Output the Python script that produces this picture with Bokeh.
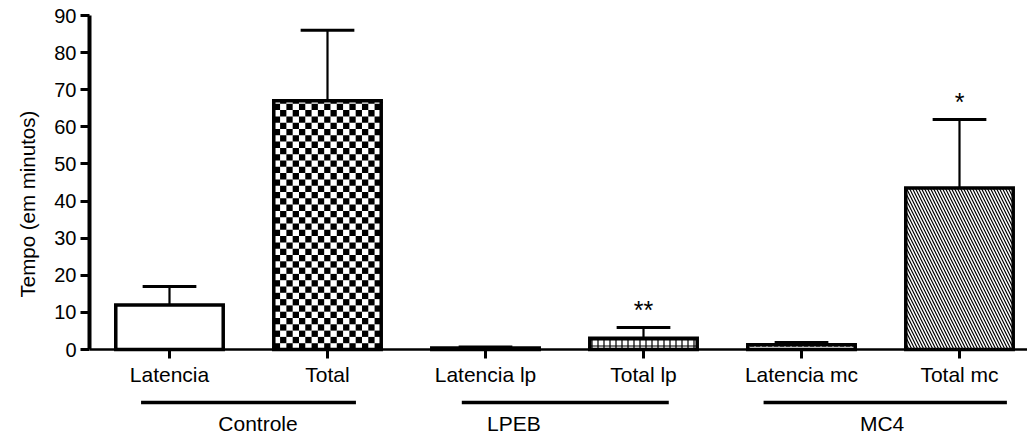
import numpy as np
from bokeh.plotting import figure
from bokeh.models import Range1d, FixedTicker, ColumnDataSource, Title
from bokeh.core.properties import value
from bokeh.embed import file_html
from bokeh.resources import INLINE

# ---------------- data ----------------
categories = ["Latencia", "Total", "Latencia lp", "Total lp", "Latencia mc", "Total mc"]
means = [12.0, 67.0, 0.4, 3.0, 1.3, 43.5]
errors = [5.0, 19.0, 0.3, 2.9, 0.6, 18.5]
patterns = [" ", " ", "horizontal_dash", "cross", "horizontal_dash", "left_diagonal_line"]
groups = ["Controle", "LPEB", "MC4"]
group_spans = [(-0.18, 1.18), (1.85, 3.16), (3.76, 5.30)]
group_label_x = [0.56, 2.18, 4.51]
signif = ["", "", "", "**", "", "*"]
y_ticks = [0, 10, 20, 30, 40, 50, 60, 70, 80, 90]
y_title = "Tempo (em minutos)"

# ---------------- layout ----------------
W, H = 1027, 437
LEFT = 89
XPX = 158.0            # px per category
X0 = 169.0             # canvas x of first category
YPX = 334.0 / 90.0     # px per minute
x_start = (LEFT - X0) / XPX
x_end = x_start + (W - LEFT) / XPX
y_end = 90 + 15 / YPX
y_start = y_end - H / YPX

FONT = "Liberation Sans"
BW = 0.68

p = figure(width=W, height=H, output_backend="svg", toolbar_location=None,
           x_axis_location=None, x_range=Range1d(x_start, x_end),
           y_range=Range1d(y_start, y_end),
           min_border_left=LEFT, min_border_right=0, min_border_top=0, min_border_bottom=0)
p.outline_line_color = None
p.grid.visible = False
p.background_fill_color = "white"
p.border_fill_color = "white"

ax = p.yaxis[0]
ax.ticker = FixedTicker(ticks=y_ticks)
ax.bounds = (0, 90)
ax.axis_line_width = 4
ax.axis_line_color = "black"
ax.major_tick_out = 9
ax.major_tick_in = 0
ax.major_tick_line_width = 3
ax.minor_tick_out = 0
ax.minor_tick_in = 0
ax.major_label_text_font = FONT
ax.major_label_text_font_size = "20px"
ax.major_label_text_color = "black"
ax.major_label_standoff = 4

# axis title as a side title (allows an offset along the axis)
p.add_layout(Title(text=y_title, align="left", offset=140, text_font=FONT,
                   text_font_size="20.5px", text_font_style="normal", text_color="black",
                   standoff=25), "left")

xs = list(range(len(categories)))
src = ColumnDataSource(dict(x=xs, top=means, err_top=[m + e for m, e in zip(means, errors)],
                            pat=patterns, lbl=categories))

# bars
p.vbar(x="x", top="top", width=BW, bottom=0, source=src, fill_color="white",
       line_color=None, hatch_pattern="pat", hatch_color="black", hatch_scale=6,
       hatch_weight=1.2)

# checkerboard for "Total"
ci = categories.index("Total")
cw = 6.3 / XPX
ch = 6.3 / YPX
left_edge = ci - BW / 2
ncols = int(np.ceil(BW / cw))
nrows = int(np.ceil(means[ci] / ch))
L, R, B, T = [], [], [], []
for i in range(ncols):
    for j in range(nrows):
        if (i + j) % 2 == 0:
            l = left_edge + i * cw
            r = min(left_edge + (i + 1) * cw, ci + BW / 2)
            b = j * ch
            t = min((j + 1) * ch, means[ci])
            if r > l and t > b:
                L.append(l); R.append(r); B.append(b); T.append(t)
p.quad(left=L, right=R, bottom=B, top=T, fill_color="black", line_color=None)

# outlines
p.vbar(x="x", top="top", width=BW, bottom=0, source=src, fill_color=None,
       line_color="black", line_width=3.5, line_join="miter")

# error bars
p.segment(x0="x", y0="top", x1="x", y1="err_top", source=src, line_color="black", line_width=2.2)
cap = 0.17
p.segment(x0=[x - cap for x in xs], y0=src.data["err_top"], x1=[x + cap for x in xs],
          y1=src.data["err_top"], line_color="black", line_width=3)

# x axis line and ticks
p.segment(x0=[x_start], y0=[0], x1=[x_end], y1=[0], line_color="black", line_width=2.5)
p.segment(x0=xs, y0=[0] * len(xs), x1=xs, y1=[-9 / YPX] * len(xs), line_color="black", line_width=3)

# category labels
p.text(x=xs, y=[-25 / YPX] * len(xs), text=categories, text_font=value(FONT),
       text_font_size="21px", text_align="center", text_baseline="middle", text_color="black")

# group lines and labels
p.segment(x0=[a for a, b in group_spans], y0=[-53 / YPX] * 3,
          x1=[b for a, b in group_spans], y1=[-53 / YPX] * 3,
          line_color="black", line_width=3.5)
p.text(x=group_label_x, y=[-74 / YPX] * 3, text=groups, text_font=value(FONT),
       text_font_size="21px", text_align="center", text_baseline="middle", text_color="black")

# significance stars
sx = [x for x, s in zip(xs, signif) if s]
sy = [m + e + 17.5 / YPX for m, e, s in zip(means, errors, signif) if s]
st = [s for s in signif if s]
p.text(x=sx, y=sy, text=st, text_font=value(FONT), text_font_size="25px",
       text_align="center", text_baseline="alphabetic", text_color="black")

open("out.html", "w").write(file_html(p, INLINE))
